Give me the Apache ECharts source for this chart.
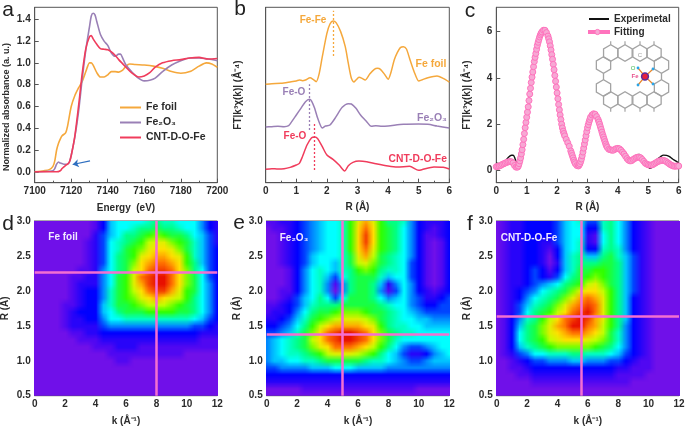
<!DOCTYPE html>
<html><head><meta charset="utf-8">
<style>html,body{margin:0;padding:0;background:#fff}#c{width:685px;height:429px}</style>
<script src="https://cdn.jsdelivr.net/npm/echarts@6/dist/echarts.min.js"></script>
</head><body><div id="c"></div>
<script>
// ---- panel a: normalized absorbance vs energy
const aFoil=[[7100,0],[7105,0.01],[7108,0.02],[7110,0.05],[7111,0.1],[7112,0.2],[7113,0.26],[7114,0.3],[7115,0.33],[7117,0.36],[7118,0.42],[7120,0.6],[7122,0.7],[7124,0.77],[7126,0.83],[7128,0.92],[7130,1.0],[7131,1.0],[7132,0.98],[7134,0.91],[7136,0.87],[7138,0.87],[7140,0.89],[7142,0.92],[7144,0.92],[7146,0.915],[7148,0.93],[7150,0.97],[7152,0.99],[7155,0.985],[7160,0.98],[7165,0.97],[7170,0.95],[7175,0.92],[7180,0.905],[7185,0.92],[7190,0.97],[7194,1.0],[7197,0.99],[7200,0.96]];
const aFe2O3=[[7100,0],[7108,0.005],[7110,0.01],[7111,0.03],[7112,0.07],[7113,0.09],[7114,0.08],[7116,0.07],[7118,0.07],[7119,0.09],[7120,0.15],[7122,0.32],[7124,0.55],[7126,0.85],[7128,1.12],[7130,1.33],[7131,1.43],[7132,1.455],[7133,1.44],[7134,1.38],[7136,1.26],[7138,1.2],[7140,1.16],[7142,1.09],[7144,1.06],[7146,1.08],[7147,1.08],[7148,1.05],[7150,0.98],[7153,0.92],[7156,0.87],[7160,0.835],[7163,0.84],[7166,0.86],[7170,0.92],[7175,0.98],[7180,1.02],[7185,1.045],[7190,1.045],[7195,1.035],[7200,1.02]];
const aCNT=[[7100,0],[7112,0],[7114,0.01],[7115,0.03],[7117,0.06],[7118,0.07],[7119,0.09],[7120,0.15],[7122,0.33],[7124,0.6],[7126,0.9],[7128,1.13],[7130,1.24],[7131,1.25],[7132,1.22],[7134,1.17],[7136,1.13],[7138,1.125],[7140,1.12],[7142,1.1],[7144,1.07],[7146,1.03],[7150,0.96],[7153,0.91],[7157,0.87],[7160,0.88],[7163,0.91],[7166,0.96],[7170,1.0],[7175,1.02],[7180,1.03],[7185,1.045],[7190,1.05],[7195,1.035],[7200,1.04]];
const aArrow=[[7130.3,0.10],[7120.8,0.067]];
// ---- panel b: FT magnitude, offset curves (arbitrary units)
const bFoil=[[0,295],[0.2,297],[0.5,298],[0.8,302],[1,305],[1.1,308],[1.2,306],[1.3,308],[1.45,315],[1.55,310],[1.65,303],[1.75,328],[1.85,378],[2,448],[2.1,476],[2.2,485],[2.3,480],[2.45,453],[2.6,408],[2.7,358],[2.8,313],[2.88,302],[2.95,308],[3.05,316],[3.15,313],[3.25,308],[3.4,326],[3.55,340],[3.65,343],[3.75,340],[3.9,323],[4,310],[4.1,333],[4.2,368],[4.3,390],[4.4,405],[4.5,408],[4.6,401],[4.7,373],[4.85,333],[5,305],[5.1,308],[5.3,315],[5.6,320],[5.8,313],[6,302]];
const bFe2O3=[[0,167],[0.2,168],[0.4,169],[0.6,168],[0.75,171],[0.85,183],[1,203],[1.15,223],[1.3,243],[1.43,250],[1.5,245],[1.6,223],[1.7,193],[1.85,164],[1.95,170],[2.1,173],[2.3,198],[2.5,226],[2.7,237],[2.8,236],[2.95,223],[3.1,203],[3.3,183],[3.45,169],[3.6,171],[3.8,169],[4,170],[4.5,175],[5,176],[5.3,175],[5.6,170],[6,164]];
const bCNT=[[0,40],[0.2,42],[0.4,41],[0.6,42],[0.8,46],[1,53],[1.1,58],[1.2,78],[1.35,113],[1.5,135],[1.6,137],[1.7,132],[1.85,108],[2,83],[2.2,70],[2.4,53],[2.58,35],[2.7,51],[2.85,61],[3.05,65],[3.3,63],[3.6,57],[4,50],[4.3,47],[4.7,49],[5,37],[5.1,39],[5.5,47],[5.8,46],[6,41]];
const bGuideFoil=[[2.2,380],[2.2,516]], bGuideFe2O3=[[1.43,158],[1.43,295]], bGuideCNT=[[1.6,38],[1.6,176]];
// ---- panel c: experimental and fit
const cExp=[[0,0.32],[0.1,0.3],[0.2,0.32],[0.3,0.42],[0.4,0.58],[0.5,0.66],[0.55,0.66],[0.6,0.58],[0.65,0.38],[0.7,0.25],[0.75,0.3],[0.8,0.55],[0.9,1.3],[1,2.25],[1.1,3.3],[1.2,4.25],[1.3,5.05],[1.4,5.65],[1.5,5.98],[1.6,6.05],[1.7,5.8],[1.8,5.2],[1.9,4.35],[2,3.35],[2.1,2.4],[2.2,1.7],[2.3,1.35],[2.4,1.05],[2.5,0.65],[2.6,0.3],[2.7,0.2],[2.8,0.5],[2.9,1.15],[3,1.85],[3.1,2.3],[3.2,2.45],[3.3,2.33],[3.4,2],[3.5,1.55],[3.6,1.15],[3.7,0.92],[3.8,0.88],[3.9,0.9],[4,0.93],[4.1,0.85],[4.2,0.68],[4.3,0.5],[4.4,0.45],[4.5,0.55],[4.6,0.66],[4.7,0.7],[4.8,0.6],[4.9,0.38],[5,0.2],[5.05,0.1],[5.1,0.12],[5.2,0.35],[5.3,0.5],[5.4,0.6],[5.5,0.67],[5.6,0.66],[5.7,0.6],[5.8,0.5],[5.9,0.42],[6,0.33]];
const cFitR=[0,0.05,0.1,0.15,0.2,0.25,0.3,0.35,0.4,0.45,0.5,0.55,0.6,0.65,0.7,0.75,0.8,0.85,0.9,0.95,1,1.05,1.1,1.15,1.2,1.25,1.3,1.35,1.4,1.45,1.5,1.55,1.6,1.65,1.7,1.75,1.8,1.85,1.9,1.95,2,2.05,2.1,2.15,2.2,2.25,2.3,2.35,2.4,2.45,2.5,2.55,2.6,2.65,2.7,2.75,2.8,2.85,2.9,2.95,3,3.05,3.1,3.15,3.2,3.25,3.3,3.35,3.4,3.45,3.5,3.55,3.6,3.65,3.7,3.75,3.8,3.85,3.9,3.95,4,4.05,4.1,4.15,4.2,4.25,4.3,4.35,4.4,4.45,4.5,4.55,4.6,4.65,4.7,4.75,4.8,4.85,4.9,4.95,5,5.05,5.1,5.15,5.2,5.25,5.3,5.35,5.4,5.45,5.5,5.55,5.6,5.65,5.7,5.75,5.8,5.85,5.9,5.95,6];
const cFitV=[0.17,0.18,0.2,0.23,0.27,0.3,0.33,0.36,0.38,0.39,0.38,0.33,0.22,0.15,0.15,0.3,0.55,0.9,1.35,1.85,2.3,2.75,3.3,3.8,4.25,4.7,5.05,5.4,5.65,5.85,5.98,6.05,6.05,5.95,5.8,5.55,5.2,4.8,4.35,3.85,3.35,2.85,2.4,2,1.7,1.5,1.35,1.2,1.05,0.85,0.65,0.45,0.3,0.22,0.2,0.3,0.5,0.8,1.15,1.5,1.85,2.1,2.3,2.4,2.45,2.43,2.33,2.2,2,1.78,1.55,1.35,1.15,1,0.92,0.9,0.88,0.88,0.92,0.95,0.96,0.94,0.88,0.8,0.72,0.62,0.52,0.45,0.42,0.43,0.48,0.52,0.56,0.58,0.58,0.55,0.48,0.4,0.32,0.28,0.25,0.24,0.24,0.26,0.3,0.34,0.38,0.41,0.43,0.44,0.44,0.42,0.38,0.33,0.28,0.24,0.21,0.19,0.19,0.2,0.2];
// markers read on the steep flanks, where the fit points sit further apart
const cFitSteep=[[0.725,0.2],[0.775,0.42],[0.825,0.72],[0.875,1.12],[0.925,1.6],[0.975,2.08],[1.025,2.52],[1.075,3.02],[1.125,3.55],[1.175,4.03],[1.225,4.48],[1.275,4.88],[1.325,5.23],[1.375,5.53],[1.425,5.76],[1.475,5.92],[1.725,5.68],[1.775,5.38],[1.825,5],[1.875,4.58],[1.925,4.1],[1.975,3.6],[2.025,3.1],[2.075,2.62],[2.125,2.2],[2.175,1.84],[2.225,1.6],[2.475,0.75],[2.525,0.55],[2.575,0.37],[2.725,0.24],[2.775,0.39],[2.825,0.64],[2.875,0.97],[2.925,1.32],[2.975,1.68],[3.025,1.98],[3.075,2.2],[3.375,2.1],[3.425,1.89],[3.475,1.66],[3.525,1.45],[3.575,1.25],[3.625,1.07]];
// ---- wavelet panels: rows run R=3.0 down to 0.5, columns k=0..12
const kValues=[0,0.5,1,1.5,2,2.5,3,3.5,4,4.5,5,5.5,6,6.5,7,7.5,8,8.5,9,9.5,10,10.5,11,11.5,12];
const rValues=[3,2.9,2.8,2.7,2.6,2.5,2.4,2.3,2.2,2.1,2,1.9,1.8,1.7,1.6,1.5,1.4,1.3,1.2,1.1,1,0.9,0.8,0.7,0.6,0.5];
const heatFoil=[
[1,1,1,1,1,1,1,1,2,4,7,8,8,8,8,9,10,9,9,8,8,8,6,4,3],
[1,1,1,1,1,1,1,1,2,4,7,8,8,9,10,10,11,10,10,9,8,8,6,4,3],
[1,1,1,1,1,1,1,1,3,5,7,8,10,10,11,12,13,12,11,11,10,8,7,5,3],
[1,1,1,1,1,1,1,2,3,5,8,9,10,11,12,14,15,15,13,12,11,9,7,5,3],
[1,1,1,1,1,1,1,2,3,5,8,9,11,12,13,15,16,16,15,13,11,9,7,5,4],
[1,1,1,1,1,1,1,2,3,5,8,10,11,12,15,16,17,17,16,15,12,9,7,5,4],
[1,1,1,1,1,1,1,2,3,5,8,10,11,13,16,17,18,18,17,16,12,10,7,5,4],
[1,1,1,1,1,1,2,2,3,6,8,10,11,14,16,18,19,19,18,16,13,10,8,5,4],
[1,1,1,1,1,2,2,3,3,6,8,11,12,15,18,19,20,20,18,16,13,11,8,5,4],
[1,1,1,1,1,2,3,3,3,6,8,11,12,15,17,19,20,20,18,16,13,11,8,6,4],
[1,1,1,1,1,2,3,4,4,6,9,11,12,14,16,18,19,19,17,15,12,11,8,6,4],
[1,1,1,1,1,2,3,4,4,6,9,11,12,13,15,16,17,16,15,14,12,10,8,6,4],
[1,1,1,1,2,2,3,4,4,7,9,11,11,12,13,14,14,14,13,12,11,10,8,6,4],
[1,1,1,1,2,3,4,4,4,7,8,10,11,11,11,12,12,12,12,11,11,10,8,6,4],
[1,1,1,1,2,3,3,4,4,6,8,8,9,9,9,9,9,9,9,9,9,8,7,5,4],
[1,1,1,1,2,3,3,3,3,5,6,6,6,6,6,6,6,6,6,6,6,5,5,4,3],
[1,1,1,1,1,2,2,3,3,4,4,4,4,4,4,4,4,4,4,4,4,4,3,3,3],
[1,1,1,1,1,1,2,2,2,3,3,3,3,3,3,3,3,3,3,3,3,3,2,2,2],
[1,1,1,1,1,1,1,1,2,2,2,3,3,3,2,2,2,2,2,2,2,2,2,2,2],
[1,1,1,1,1,1,1,1,1,1,2,2,2,2,2,2,2,2,2,2,1,1,1,1,1],
[1,1,1,1,1,1,1,1,1,1,1,2,2,1,1,1,1,1,1,1,1,1,1,1,1],
[1,1,1,1,1,1,1,1,1,1,1,1,1,1,1,1,1,1,1,1,1,1,1,1,1],
[1,1,1,1,1,1,1,1,1,1,1,1,1,1,1,1,1,1,1,1,1,1,1,1,1],
[1,1,1,1,1,1,1,1,1,1,1,1,1,1,1,1,1,1,1,1,1,1,1,1,1],
[1,1,1,1,1,1,1,1,1,1,1,1,1,1,1,1,1,1,1,1,1,1,1,1,1],
[1,1,1,1,1,1,1,1,1,1,1,1,1,1,1,1,1,1,1,1,1,1,1,1,1]];
const heatFe2O3=[
[2,2,3,3,4,5,6,7,8,8,9,12,15,17,15,12,10,10,9,6,4,3,3,3,4],
[1,2,2,3,4,5,6,7,8,8,9,12,16,18,16,12,11,10,8,6,4,3,2,3,4],
[1,1,2,3,4,5,6,7,8,8,9,12,16,19,16,12,11,10,8,6,4,2,2,3,4],
[1,1,2,3,4,5,6,7,8,8,9,12,16,19,16,12,11,10,8,6,4,2,1,2,4],
[1,1,2,3,4,5,6,7,8,8,9,12,16,18,15,12,11,10,8,6,4,2,1,2,4],
[1,1,2,3,4,5,7,8,8,8,9,11,15,17,14,11,10,9,8,6,4,2,1,2,4],
[1,1,2,3,4,5,7,8,8,7,9,11,14,15,13,11,10,9,8,5,4,2,1,2,4],
[1,1,1,2,4,6,8,9,8,7,9,10,12,13,12,10,9,9,8,5,4,2,1,2,4],
[1,1,1,2,4,6,8,9,7,5,8,10,11,11,11,9,7,8,8,5,4,2,1,2,4],
[1,1,1,2,4,6,8,9,6,2,6,10,11,11,10,7,3,6,8,6,4,2,1,2,4],
[1,1,2,2,4,6,8,9,6,1,6,10,11,11,10,6,2,5,8,6,4,3,2,3,4],
[1,1,2,3,5,7,8,10,8,5,8,11,11,11,10,8,6,7,8,6,5,3,3,4,5],
[2,2,3,4,5,7,9,10,10,10,11,11,11,11,11,10,9,8,8,6,5,4,4,5,5],
[2,3,3,4,6,8,10,11,11,12,13,13,13,12,11,11,10,9,8,7,6,5,5,5,5],
[3,3,4,5,7,9,11,12,13,14,15,15,15,14,13,11,10,9,8,8,7,7,6,6,6],
[4,4,5,6,8,10,12,14,16,17,17,17,17,16,15,12,10,9,9,8,8,7,7,7,7],
[5,5,6,7,9,11,13,16,18,19,20,20,19,18,16,13,11,10,9,9,8,8,8,8,8],
[6,7,8,9,10,11,14,16,18,19,20,20,19,18,16,13,11,9,8,8,8,8,8,8,8],
[6,7,8,9,10,11,13,15,16,18,18,18,17,16,14,12,10,8,6,5,5,6,7,8,8],
[6,7,8,9,9,10,11,12,14,15,15,15,14,13,12,10,8,7,5,3,3,4,6,7,8],
[6,7,7,8,8,9,9,10,11,11,11,11,11,10,9,9,8,7,6,5,5,6,7,7,7],
[5,5,6,6,6,6,7,7,7,8,8,8,7,7,7,7,6,6,6,6,6,6,6,6,6],
[4,4,4,4,4,4,4,4,4,4,4,4,4,4,4,4,4,4,4,4,4,4,4,4,4],
[3,3,3,3,3,3,3,3,3,3,3,3,3,3,3,3,3,3,3,3,3,3,3,3,3],
[1,1,1,1,1,2,2,2,2,2,2,2,2,2,2,2,2,2,2,2,1,1,1,1,1],
[1,1,1,1,1,1,1,1,1,1,1,1,1,1,1,1,1,1,1,1,1,1,1,1,1]];
const heatCNT=[
[1,2,3,3,4,4,4,4,5,7,8,9,5,5,9,10,8,6,4,3,2,1,1,1,1],
[1,2,3,3,4,4,4,4,5,7,8,8,4,4,9,10,8,6,4,3,2,1,1,1,1],
[1,2,3,3,4,4,4,4,5,7,8,8,3,2,8,10,8,6,4,3,2,1,1,1,1],
[1,2,3,3,4,4,3,3,5,7,8,9,3,2,8,10,8,6,4,3,2,1,1,1,1],
[1,2,3,3,4,4,3,2,4,7,8,9,4,4,9,10,9,6,4,3,2,1,1,1,1],
[1,2,3,3,4,4,3,1,4,7,9,10,7,7,10,11,9,7,5,3,2,1,1,1,1],
[1,2,3,3,4,4,3,1,3,7,9,10,10,10,11,11,10,7,5,3,2,1,1,1,1],
[1,2,3,3,4,5,4,2,4,7,9,11,11,12,12,11,10,7,5,3,2,1,1,1,1],
[1,2,3,3,4,5,4,3,5,8,10,11,12,13,12,11,10,7,5,3,2,1,1,1,1],
[1,2,3,3,4,5,6,7,8,10,11,12,14,15,13,11,10,7,5,3,2,1,1,1,1],
[1,2,3,4,5,6,8,9,10,11,13,15,16,16,14,12,10,7,5,3,2,1,1,1,1],
[1,2,3,4,6,8,9,10,11,13,15,17,18,17,15,12,10,7,4,3,2,1,1,1,1],
[1,2,3,5,7,9,10,11,13,15,17,18,19,18,15,12,10,7,4,3,2,1,1,1,1],
[1,2,3,5,8,10,11,12,14,16,18,19,20,18,15,12,10,7,4,3,2,1,1,1,1],
[1,2,4,6,9,10,12,14,16,18,19,20,19,17,15,12,10,7,4,3,2,1,1,1,1],
[1,2,4,7,10,11,13,15,17,18,20,20,18,17,14,12,10,6,4,3,2,1,1,1,1],
[1,2,4,8,10,11,13,15,16,17,18,18,17,16,14,11,9,6,4,3,2,1,1,1,1],
[1,2,4,8,10,11,12,14,15,16,16,16,15,14,13,11,9,6,4,3,2,1,1,1,1],
[1,2,4,7,9,10,11,12,13,13,13,13,13,12,11,10,8,6,4,3,2,1,1,1,1],
[1,2,3,5,6,8,8,9,9,9,10,10,9,9,9,8,7,5,4,3,2,1,1,1,1],
[1,1,2,3,4,5,5,6,6,6,7,7,6,6,6,5,5,4,3,2,2,1,1,1,1],
[1,1,2,2,3,4,4,4,4,4,4,4,4,4,4,4,3,3,2,2,2,1,1,1,1],
[1,1,1,2,2,3,3,3,3,3,3,3,3,3,3,3,2,2,2,2,1,1,1,1,1],
[1,1,1,1,1,2,2,2,2,2,2,2,2,2,2,2,2,2,1,1,1,1,1,1,1],
[1,1,1,1,1,1,1,1,1,1,1,1,1,1,1,1,1,1,1,1,1,1,1,1,1],
[1,1,1,1,1,1,1,1,1,1,1,1,1,1,1,1,1,1,1,1,1,1,1,1,1]];
const crossFoil=[8.0,2.26], crossFe2O3=[4.95,1.38], crossCNT=[5.55,1.63];
const heatColors=['#9018e0','#5008f2','#0000ff','#0088ff','#00ffff','#00ff88','#30ff00','#c0ff00','#ffe000','#ff7000','#e81000'];

const ORANGE='#f5a83c',PURPLE='#9a80b6',RED='#f03c5c',PINK='#ff7cc4',FONT='"Liberation Sans",Arial,sans-serif',TXT='#2b2b2b',FRAME='#555';
const grids=[[34.7,7.3,182.6,175.4],[265.7,7.3,183.6,175.4],[496.3,7.3,182.4,175.4],[34.7,221,182.6,174.7],[266.7,221,182.6,174.7],[496.7,221,182.3,174.7]]
  .map(g=>({left:g[0],top:g[1],width:g[2],height:g[3],show:true,borderColor:FRAME,borderWidth:1,backgroundColor:'transparent',outerBoundsMode:'none'}));
const tick={show:true,inside:true,length:4,lineStyle:{color:FRAME}};
const minor={show:true,splitNumber:2,length:2,lineStyle:{color:FRAME}};
const lab={fontFamily:FONT,fontWeight:'bold',fontSize:10,color:TXT,margin:4};
const nm={fontFamily:FONT,fontWeight:'bold',fontSize:10,color:TXT};
function xAxis(i,min,max,interval,name,gap){return {type:'value',gridIndex:i,min,max,interval,name,nameLocation:'middle',nameGap:gap,nameTextStyle:nm,axisLine:{show:true,onZero:false,lineStyle:{color:FRAME}},axisTick:tick,minorTick:minor,axisLabel:Object.assign({},lab,{formatter:v=>String(v)}),splitLine:{show:false}};}
function yAxis(i,min,max,name,gap,extra){return Object.assign({type:'value',gridIndex:i,min,max,name,nameLocation:'middle',nameGap:gap,nameTextStyle:nm,axisLine:{show:true,onZero:false,lineStyle:{color:FRAME}},axisTick:tick,axisLabel:lab,splitLine:{show:false}},extra||{});}
function custom(vals){return {axisTick:Object.assign({},tick,{customValues:vals}),axisLabel:Object.assign({},lab,{customValues:vals,formatter:v=>vals.some(x=>x%1)?v.toFixed(1):String(v)})};}

function line(name,g,data,color,width,extra){return Object.assign({name,type:'line',xAxisIndex:g,yAxisIndex:g,data,smooth:0.25,showSymbol:false,lineStyle:{color,width},itemStyle:{color},clip:true},extra||{});}
function guide(pairs,color){return {silent:true,symbol:'none',label:{show:false},animation:false,lineStyle:{color,type:[2,2],width:1.3},data:[[{coord:pairs[0]},{coord:pairs[1]}]]};}

function heat(name,g,rows,cross){
  const data=[];
  const tex=document.createElement('canvas');tex.width=kValues.length;tex.height=rValues.length;
  const ctx=tex.getContext('2d');
  rows.forEach((row,ri)=>row.forEach((v,ki)=>{
    data.push([kValues[ki],rValues[ri],v]);
    ctx.fillStyle=echarts.color.lerp(v/20,heatColors);
    ctx.fillRect(ki,ri,1,1);
  }));
  return {name,type:'custom',xAxisIndex:g,yAxisIndex:g,data,encode:{x:0,y:1},clip:true,silent:true,
    renderItem(params,api){
      if(params.dataIndex!==0) return null;
      const a=api.coord([kValues[0]-0.25,rValues[0]+0.05]),b=api.coord([kValues[kValues.length-1]+0.25,rValues[rValues.length-1]-0.05]);
      return {type:'image',style:{image:tex,x:a[0],y:a[1],width:b[0]-a[0],height:b[1]-a[1]}};
    },
    markLine:{silent:true,symbol:'none',label:{show:false},animation:false,lineStyle:{color:'#f46fd0',type:'solid',width:2.5},data:[{xAxis:cross[0]},{yAxis:cross[1]}]}
  };
}

const cFit=cFitR.map((r,i)=>[r,cFitV[i]]).concat(cFitSteep).sort((p,q)=>p[0]-q[0]);
const series=[
 line('Fe foil',0,aFoil,ORANGE,1.6),
 line('Fe2O3',0,aFe2O3,PURPLE,1.6),
 line('CNT-D-O-Fe',0,aCNT,RED,1.6,{markLine:{silent:true,symbol:['none','arrow'],symbolSize:6,label:{show:false},animation:false,lineStyle:{color:'#2f6fc0',type:'solid',width:1.2},data:[[{coord:aArrow[0]},{coord:aArrow[1]}]]}}),
 line('b-foil',1,bFoil,ORANGE,1.5,{markLine:guide(bGuideFoil,ORANGE)}),
 line('b-fe2o3',1,bFe2O3,PURPLE,1.5,{markLine:guide(bGuideFe2O3,PURPLE)}),
 line('b-cnt',1,bCNT,RED,1.5,{markLine:guide(bGuideCNT,RED)}),
 line('Experimetal',2,cExp,'#111',1.4),
 {name:'Fitting',type:'line',xAxisIndex:2,yAxisIndex:2,data:cFit,smooth:0.2,symbol:'circle',symbolSize:6,showSymbol:true,showAllSymbol:true,lineStyle:{color:PINK,width:1.6},itemStyle:{color:'#f7a8d4',borderColor:'#ff73bd',borderWidth:1}},
 heat('Fe foil map',3,heatFoil,crossFoil),
 heat('Fe2O3 map',4,heatFe2O3,crossFe2O3),
 heat('CNT-D-O-Fe map',5,heatCNT,crossCNT)
];

function text(t,x,y,color,size,weight,align){return {type:'text',z:50,silent:true,style:{text:t,x,y,fill:color,font:(weight||'bold')+' '+(size||12)+'px '+FONT,textAlign:align||'center',textVerticalAlign:'middle'}};}

// inset: schematic lattice around the Fe site
const HEX_S=8.25;
const insetHexes=[[610.7,53],[625,53],[640,53],[654,53],[603.5,65],[661.5,65],[603.5,88],[661.5,88],[610.7,100],[625,100],[640,100],[654,100]];
const insetBonds=[[645,76.5,638,68],[645,76.5,653,69],[645,76.5,638,85],[645,76.5,653,84]];
const insetLinks=[[603.5,73,603.5,80],[661.5,73,661.5,80]];
const inset=[];
insetHexes.forEach(h=>{
  const pts=[];for(let i=0;i<6;i++){const a=Math.PI/6+i*Math.PI/3;pts.push([h[0]+HEX_S*Math.cos(a),h[1]+HEX_S*Math.sin(a)]);}
  inset.push({type:'polygon',z:40,silent:true,shape:{points:pts},style:{fill:'none',stroke:'#a3a3a3',lineWidth:1.3}});
  if(h[1]<60||h[1]>95){const d=h[1]<60?-1:1;inset.push({type:'line',z:40,silent:true,shape:{x1:h[0],y1:h[1]+d*HEX_S,x2:h[0],y2:h[1]+d*(HEX_S+3.5)},style:{stroke:'#a3a3a3',lineWidth:1.2}});}
});
insetLinks.forEach(l=>inset.push({type:'line',z:40,silent:true,shape:{x1:l[0],y1:l[1],x2:l[2],y2:l[3]},style:{stroke:'#a3a3a3',lineWidth:1.3}}));
insetBonds.forEach(l=>{
  inset.push({type:'line',z:41,silent:true,shape:{x1:l[0],y1:l[1],x2:l[2],y2:l[3]},style:{stroke:'#e8862a',lineWidth:1.2}});
  inset.push({type:'circle',z:42,silent:true,shape:{cx:l[2],cy:l[3],r:1.4},style:{fill:'#2aa5e8'}});
});
inset.push({type:'circle',z:43,silent:true,shape:{cx:645,cy:76.5,r:3.4},style:{fill:'#e8203c',stroke:'#5a2a9c',lineWidth:1.5}});
inset.push({type:'circle',z:43,silent:true,shape:{cx:597.5,cy:32,r:2.6},style:{fill:'#f7a8d4',stroke:'#ff73bd',lineWidth:1}});

const graphic=[
 text('a',8,10,'#222',21,'normal'),text('b',240,9,'#222',21,'normal'),text('c',470,11,'#222',21,'normal'),
 text('d',8,224,'#222',21,'normal'),text('e',239,223,'#222',21,'normal'),text('f',470,224,'#222',21,'normal'),
 text('Fe-Fe',313,20.7,ORANGE,10),text('Fe foil',431,64,ORANGE,10.5),
 text('Fe-O',294,92.7,PURPLE,10),text('Fe₂O₃',432,118,PURPLE,10.5),
 text('Fe-O',295,136,RED,10),text('CNT-D-O-Fe',417.7,159,RED,10.3),
 text('Fe foil',63,237,'#f0e8ff',10),text('Fe₂O₃',294,238,'#f0e8ff',10),text('CNT-D-O-Fe',529,238,'#f0e8ff',10),
 text('C',640,55,'#999',6,'normal'),text('O',633,68,'#3cb84a',6,'normal'),text('Fe',635,76.5,'#e8508c',6,'bold')
].concat(inset);

const nm9=Object.assign({},nm,{fontSize:9,padding:[0,24,0,0]});
const option={
 animation:false,backgroundColor:'#fff',textStyle:{fontFamily:FONT},
 grid:grids,
 xAxis:[xAxis(0,7100,7200,20,'Energy  (eV)',21),xAxis(1,0,6,1,'R (Å)',20),xAxis(2,0,6,1,'R (Å)',20),xAxis(3,0,12,2,'k (Å⁻¹)',21),xAxis(4,0,12,2,'k (Å⁻¹)',21),xAxis(5,0,12,2,'k (Å⁻¹)',21)],
 yAxis:[
  yAxis(0,-0.1,1.51,'Normalized absorbance (a. u.)',24,Object.assign(custom([0,0.2,0.4,0.6,0.8,1,1.2,1.4]),{nameTextStyle:nm9})),
  yAxis(1,0,526,'FT|k³χ(k)| (Å⁻⁴)',22,{axisTick:{show:false},axisLabel:{show:false}}),
  yAxis(2,-0.52,7.04,'FT|k³χ(k)| (Å⁻⁴)',24,custom([0,2,4,6])),
  yAxis(3,0.5,3,'R (Å)',24,{interval:0.5,axisLabel:Object.assign({},lab,{formatter:v=>v.toFixed(1)})}),
  yAxis(4,0.5,3,'R (Å)',24,{interval:0.5,axisLabel:Object.assign({},lab,{formatter:v=>v.toFixed(1)})}),
  yAxis(5,0.5,3,'R (Å)',24,{interval:0.5,axisLabel:Object.assign({},lab,{formatter:v=>v.toFixed(1)})})
 ],
 legend:[
  {left:115,top:97,orient:'vertical',itemWidth:21,itemHeight:2,itemGap:4,selectedMode:false,icon:'rect',data:['Fe foil','Fe2O3','CNT-D-O-Fe'],textStyle:{fontFamily:FONT,fontWeight:'bold',fontSize:10.5,color:TXT},formatter:n=>n==='Fe2O3'?'Fe₂O₃':n},
  {left:583,top:9,orient:'vertical',itemWidth:20,itemHeight:2,itemGap:3,selectedMode:false,icon:'rect',data:['Experimetal','Fitting'],textStyle:{fontFamily:FONT,fontWeight:'bold',fontSize:10,color:TXT}}
 ],
 series,graphic
};
const chart=echarts.init(document.getElementById('c'),null,{renderer:'canvas',width:685,height:429});
chart.setOption(option);
</script></body></html>
